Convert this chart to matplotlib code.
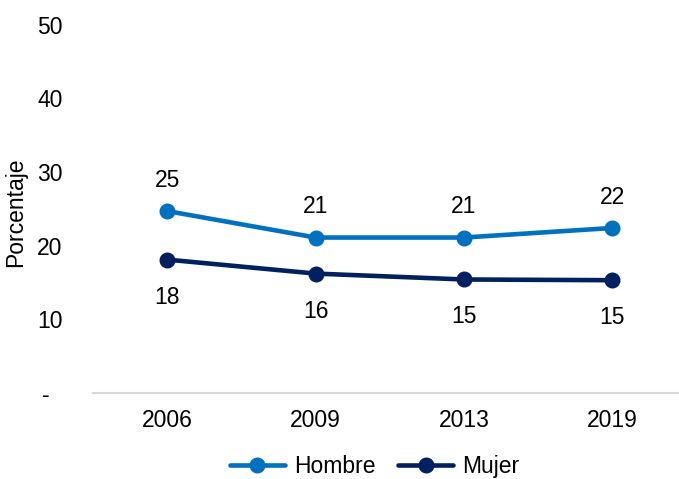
import matplotlib.pyplot as plt

years = ['2006', '2009', '2013', '2019']
hombre = [24.7, 21.1, 21.1, 22.4]
mujer = [18.1, 16.2, 15.4, 15.3]
hombre_labels = ['25', '21', '21', '22']
mujer_labels = ['18', '16', '15', '15']
y_ticks = [0, 10, 20, 30, 40, 50]
y_tick_labels = ['-  ', '10', '20', '30', '40', '50']

plt.rcParams['font.family'] = ['Liberation Sans', 'DejaVu Sans']
fs = 16.5

fig = plt.figure(figsize=(6.79, 4.79), dpi=100)
ax = fig.add_axes([0.137, 0.18, 0.863, 0.768])

x = list(range(len(years)))
ax.plot(x, hombre, color='#0070C0', linewidth=3.3, marker='o', markersize=10.5,
        label='Hombre', solid_capstyle='round')
ax.plot(x, mujer, color='#002060', linewidth=3.3, marker='o', markersize=10.5,
        label='Mujer', solid_capstyle='round')

for xi, v, s in zip(x, hombre, hombre_labels):
    ax.annotate(s, (xi, v), xytext=(0, 22), textcoords='offset points',
                ha='center', va='center', fontsize=fs)
for xi, v, s in zip(x, mujer, mujer_labels):
    ax.annotate(s, (xi, v), xytext=(0, -27), textcoords='offset points',
                ha='center', va='center', fontsize=fs)

ax.set_xlim(-0.5, 3.45)
ax.set_ylim(0, 50)
ax.set_xticks(x)
ax.set_xticklabels(years, fontsize=fs)
ax.set_yticks(y_ticks)
ax.set_yticklabels(y_tick_labels, fontsize=fs)
ax.tick_params(axis='x', length=0, pad=12)
ax.tick_params(axis='y', length=0, pad=22)
for side in ['top', 'right', 'left']:
    ax.spines[side].set_visible(False)
ax.spines['bottom'].set_color('#D9D9D9')
ax.spines['bottom'].set_linewidth(1.5)
ax.set_ylabel('Porcentaje', fontsize=fs)
ax.yaxis.set_label_coords(-0.112, 0.49)

fig.legend(loc='center', bbox_to_anchor=(0.552, 0.026), ncol=2, frameon=False,
           fontsize=fs, handlelength=2.4, handletextpad=0.4, columnspacing=1.0)

fig.savefig('out.png', dpi=100)
